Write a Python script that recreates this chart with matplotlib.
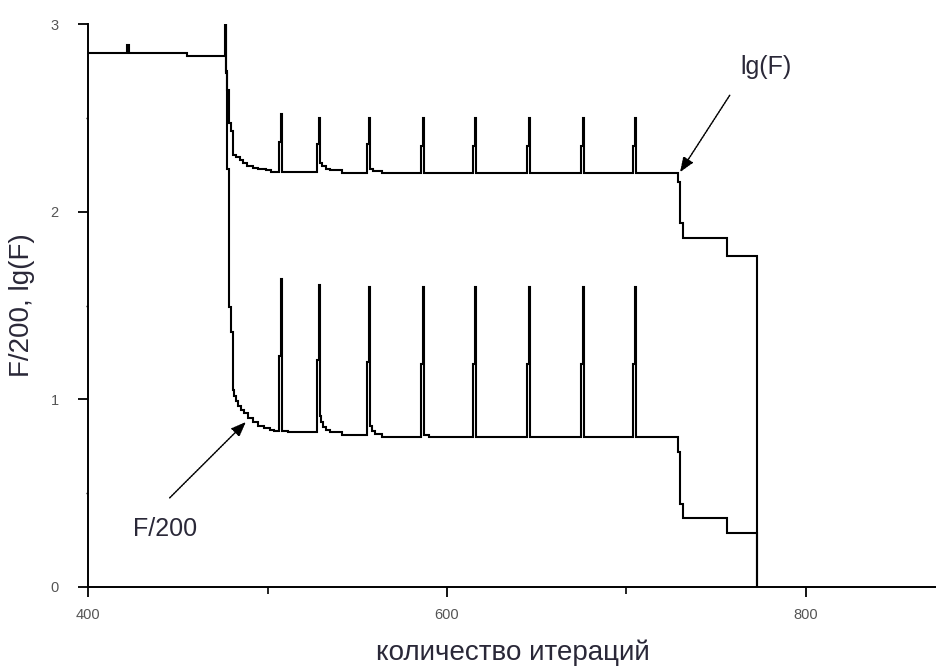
import matplotlib
matplotlib.use("Agg")
import matplotlib.pyplot as plt
from matplotlib.ticker import MultipleLocator

# ---- data (step curves) ----
lg_x = [400, 422.0, 423.0, 455.2, 476.3, 476.7, 477.6, 478.3, 479.5, 480.8, 482.5,
        484.7, 486.4, 488.6, 491.9, 494.7, 499.2, 502.0,
        506.4, 507.5, 508.1,
        527.6, 528.7, 529.2, 530.3, 532.6, 535.0, 541.5,
        555.4, 556.5, 557.1, 558.5, 564.0,
        585.5, 586.6, 587.2,
        614.5, 615.6, 616.2,
        644.6, 645.7, 646.3,
        674.7, 675.8, 676.4,
        703.6, 704.7, 705.3,
        728.7, 729.8, 731.5, 756.0, 772.7]
lg_y = [2.845, 2.89, 2.845, 2.83, 3.00, 2.74, 2.65, 2.47, 2.43, 2.30, 2.29,
        2.275, 2.26, 2.245, 2.235, 2.23, 2.22, 2.213,
        2.37, 2.52, 2.213,
        2.36, 2.50, 2.26, 2.245, 2.23, 2.22, 2.207,
        2.36, 2.50, 2.23, 2.215, 2.207,
        2.35, 2.50, 2.207,
        2.35, 2.50, 2.207,
        2.35, 2.50, 2.207,
        2.35, 2.50, 2.207,
        2.35, 2.50, 2.207,
        2.16, 1.94, 1.86, 1.766, 0.0]

f_x = [400, 476.3, 476.7, 477.6, 478.3, 479.5, 480.8, 481.3, 482.5, 483.6, 485.2, 486.9, 489.1,
       491.9, 494.7, 498.1, 501.4, 503.5,
       506.4, 507.5, 508.1, 511.4,
       527.6, 528.7, 529.2, 529.8, 530.9, 532.6, 534.8, 541.5,
       555.4, 556.5, 557.1, 558.0, 560.0, 564.0,
       585.5, 586.6, 587.2, 590.0,
       614.5, 615.6, 616.2,
       644.6, 645.7, 646.3,
       674.7, 675.8, 676.4,
       703.6, 704.7, 705.3,
       728.7, 729.8, 731.5, 756.0, 772.7]
f_y = [3.54, 5.0, 2.75, 2.23, 1.49, 1.36, 1.05, 1.02, 0.99, 0.965, 0.945, 0.925, 0.90,
       0.88, 0.86, 0.845, 0.835, 0.83,
       1.23, 1.64, 0.83, 0.825,
       1.21, 1.61, 0.91, 0.88, 0.85, 0.835, 0.825, 0.81,
       1.20, 1.60, 0.86, 0.83, 0.815, 0.80,
       1.19, 1.60, 0.81, 0.80,
       1.19, 1.60, 0.80,
       1.19, 1.60, 0.80,
       1.19, 1.60, 0.80,
       1.19, 1.60, 0.80,
       0.72, 0.44, 0.37, 0.29, 0.0]

x_ticks = [400, 600, 800]
y_ticks = [0, 1, 2, 3]
x_label = "количество итераций"
y_label = "F/200, lg(F)"

# annotation anchors (data coords)
lg_text_pos = (777.5, 2.77)
lg_tail = (757.5, 2.62)
lg_tip = (729.8, 2.21)
f_text_pos = (443.0, 0.31)
f_tail = (445.5, 0.475)
f_tip = (488.0, 0.88)

plt.rcParams['font.family'] = ['Liberation Sans', 'DejaVu Sans']

fig = plt.figure(figsize=(9.37, 6.71), dpi=100)
ax = fig.add_axes([88/937, 84/671, 1 - 88/937, (587-24)/671])

line_kw = dict(color='black', lw=1.5, where='post', solid_joinstyle='miter')
ax.step(lg_x, lg_y, **line_kw)
ax.step(f_x, f_y, **line_kw)

ax.set_xlim(400, 400 + (937 - 88) / 1.795)
ax.set_ylim(0, 3)

for s in ['top', 'right']:
    ax.spines[s].set_visible(False)
for s in ['left', 'bottom']:
    ax.spines[s].set_linewidth(1.4)

ax.set_xticks(x_ticks)
ax.set_yticks(y_ticks)
ax.xaxis.set_minor_locator(MultipleLocator(100))
ax.yaxis.set_minor_locator(MultipleLocator(0.5))
ax.tick_params(axis='both', which='major', direction='out', length=7, width=1.3,
               labelsize=10.5, labelcolor='#555555')
ax.tick_params(axis='x', which='major', pad=8)
ax.tick_params(axis='y', which='major', pad=14)
ax.tick_params(axis='x', which='minor', direction='out', length=5, width=1.2)
ax.tick_params(axis='y', which='minor', direction='out', length=1.5, width=1.0)

text_color = '#2a2838'
ax.set_xlabel(x_label, fontsize=20, color=text_color, labelpad=13)
ax.set_ylabel(y_label, fontsize=20, color=text_color, labelpad=11)

ax.text(*lg_text_pos, "lg(F)", fontsize=18, color=text_color, ha='center', va='center')
ax.text(*f_text_pos, "F/200", fontsize=18, color=text_color, ha='center', va='center')

arrow_kw = dict(arrowstyle='-|>,head_length=0.9,head_width=0.35', color='black',
                lw=1.1, linestyle=(0, (1, 0.8)), shrinkA=0, shrinkB=0)
ax.annotate('', xy=lg_tip, xytext=lg_tail, arrowprops=arrow_kw)
ax.annotate('', xy=f_tip, xytext=f_tail, arrowprops=arrow_kw)

fig.savefig('out.png', dpi=100)
